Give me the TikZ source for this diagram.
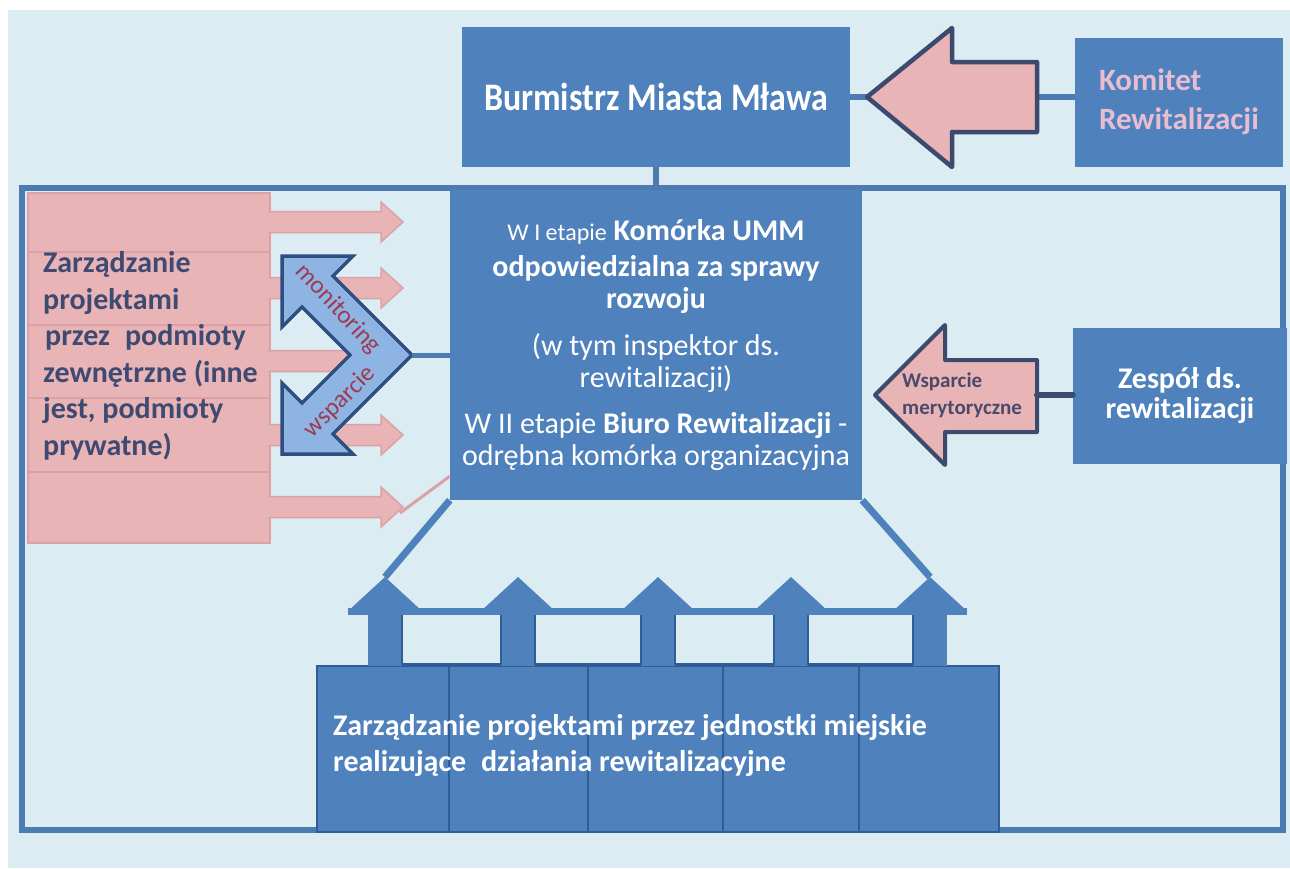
\documentclass[tikz,border=0pt]{standalone}
\usepackage{fontspec}
\setmainfont{Carlito}
\newfontfamily\narrowfont{Carlito}[FakeStretch=0.87]
\usetikzlibrary{calc}

\definecolor{bgblue}{HTML}{DBECF3}
\definecolor{boxblue}{HTML}{4F81BD}
\definecolor{frameblue}{HTML}{4B7BB0}
\definecolor{darkblue}{HTML}{2F5E96}
\definecolor{navy}{HTML}{3C4A6E}
\definecolor{rose}{HTML}{E8B4B6}
\definecolor{roseline}{HTML}{DCA0A6}
\definecolor{lilac}{HTML}{E9BDD1}
\definecolor{skyarrow}{HTML}{8EB4E3}
\definecolor{arrowline}{HTML}{2D4E7E}
\definecolor{berry}{HTML}{9E3B50}
\definecolor{slate}{HTML}{3F4A72}
\definecolor{greytext}{HTML}{4B4A6A}

\begin{document}
\begin{tikzpicture}[
  x=1pt, y=-1pt,
  box/.style={fill=boxblue, inner sep=0pt, align=center, text=white},
  link/.style={draw=frameblue, line width=6pt},
  bigarrow/.style={fill=rose, draw=navy, line width=4.5pt, line join=round},
  rowbox/.style={fill=rose, draw=roseline, line width=1.2pt},
  rowarrow/.style={fill=rose, draw=roseline, line width=1.5pt},
  roof/.style={draw=boxblue, line width=7pt},
  gap/.style={fill=bgblue, draw=darkblue, line width=2.5pt}
]
\useasboundingbox (0,0) rectangle (1290,868);
\fill[white] (0,0) rectangle (1290,868);
\fill[bgblue] (8,10) rectangle (1290,868);

% outer frame
\draw[frameblue, line width=6pt] (22,188) rectangle (1283,830);

% top row
\node[box, minimum width=388pt, minimum height=140pt,
  font=\fontsize{39}{44}\narrowfont\bfseries] (burm) at (656,97) {Burmistrz Miasta Mława};
\node[box, minimum width=208pt, minimum height=129pt, text width=160pt, align=left,
  text=lilac, font=\fontsize{31}{39}\selectfont\bfseries] (komitet) at (1179,102) {Komitet\\Rewitalizacji};
\coordinate (kom-tip) at (867,97);
\coordinate (kom-tail) at (1037,97);
\draw[link] (burm.east |- kom-tip) -- (kom-tip);
\draw[link] (kom-tail) -- (kom-tail -| komitet.west);
\draw[bigarrow] (kom-tip) -- (952,28) -- (952,62) -- (kom-tail |- 0,62)
  -- (kom-tail |- 0,132) -- (952,132) -- (952,167) -- cycle;

% central unit
\node[box, minimum width=412pt, minimum height=310pt,
  font=\fontsize{30}{32}\selectfont] (main) at (656,345) {%
  {\fontsize{24}{32}\selectfont W I etapie} \textbf{Komórka UMM}\\[4pt]
  \textbf{odpowiedzialna za sprawy}\\
  \textbf{rozwoju}\\[15pt]
  (w tym inspektor ds.\\
  rewitalizacji)\\[14pt]
  W II etapie \textbf{Biuro Rewitalizacji} -\\
  odrębna komórka organizacyjna};
\draw[link] (burm.south) -- (main.north);

% team on the right
\node[box, minimum width=214pt, minimum height=136pt,
  font=\fontsize{30}{30}\selectfont\bfseries] (zespol) at (1180,396) {Zespół ds.\\rewitalizacji};
\coordinate (zes-tip) at (875,395);
\coordinate (zes-tail) at (1037,395);
\draw[bigarrow, line width=4pt] (zes-tip) -- (945,325) -- (945,360) -- (zes-tail |- 0,360)
  -- (zes-tail |- 0,432) -- (945,432) -- (945,465) -- cycle;
\draw[navy, line width=6pt, line cap=round] (zes-tail) -- (zes-tail -| zespol.west);
\node[anchor=west, align=left, text=greytext, inner sep=0pt,
  font=\fontsize{21}{27}\selectfont\bfseries] (wsp) at (902,395) {Wsparcie\\merytoryczne};

% external project owners
\foreach \top/\bot/\mid [count=\i] in {193/252/222, 252/325/288, 325/398/361, 398/472/435, 472/543/507} {
  \draw[rowbox] (28,\top) rectangle (270,\bot);
  \draw[rowarrow] (268,\mid-10.5) -- (381,\mid-10.5) -- (381,\mid-20) -- (403,\mid)
    -- (381,\mid+20) -- (381,\mid+10.5) -- (268,\mid+10.5);
  \coordinate (ext\i) at (400,\mid+6);
}
\draw[roseline, line width=3pt] (ext5) -- ($(main.south west)+(0,-24)$);
\node[anchor=west, align=left, text=slate, inner sep=0pt,
  font=\fontsize{30}{36.5}\selectfont\bfseries] (ext) at (43,356)
  {Zarządzanie\\projektami\\\hspace{2pt}przez\enspace podmioty\\zewnętrzne (inne\\jest, podmioty\\prywatne)};

% monitoring / support arrow
\coordinate (mon-tip) at (412,355);
\draw[fill=skyarrow, draw=arrowline, line width=3.5pt, line join=miter]
  (mon-tip) -- (333,276) -- (353,256) -- (282,256) -- (282,327) -- (302,307)
  -- (350,355) -- (302,403) -- (282,383) -- (282,454) -- (353,454) -- (333,434) -- cycle;
\draw[link, line width=5pt] (mon-tip) -- (mon-tip -| main.west);
\node[rotate=-47, text=berry, font=\fontsize{25}{25}\selectfont] (mon) at (338,309) {monitoring};
\node[rotate=45, text=berry, font=\fontsize{25}{25}\selectfont] (sup) at (340,402) {wsparcie};

% city units
\foreach \l/\r [count=\i] in {316/448, 448/587, 587/722, 722/858, 858/998}
  \node[fill=boxblue, draw=darkblue, line width=1.5pt, inner sep=0pt, anchor=north west,
    minimum width=\r-\l, minimum height=166pt] (col\i) at (\l,665) {};
\foreach \c [count=\i] in {385,518,658,791,930} {
  \fill[boxblue] (\c-17,612) rectangle (\c+17,666);
  \fill[boxblue] (\c-37,611) -- (\c,577) -- (\c+37,611) -- cycle;
  \coordinate (up\i) at (\c,577);
}
\foreach \a/\b in {385/518, 518/658, 658/791, 791/930}
  \draw[gap] (\a+17,614) rectangle (\b-17,664);
\draw[roof] (348,611) -- (967,611);
\draw[roof] (main.south west) -- (up1);
\draw[roof] (main.south east) -- (up5);
\node[anchor=west, align=left, text=white, inner sep=0pt,
  font=\fontsize{30}{36}\selectfont\bfseries] (units) at (333,745)
  {Zarządzanie projektami przez jednostki miejskie\\realizujące\enspace działania rewitalizacyjne};
\end{tikzpicture}
\end{document}
